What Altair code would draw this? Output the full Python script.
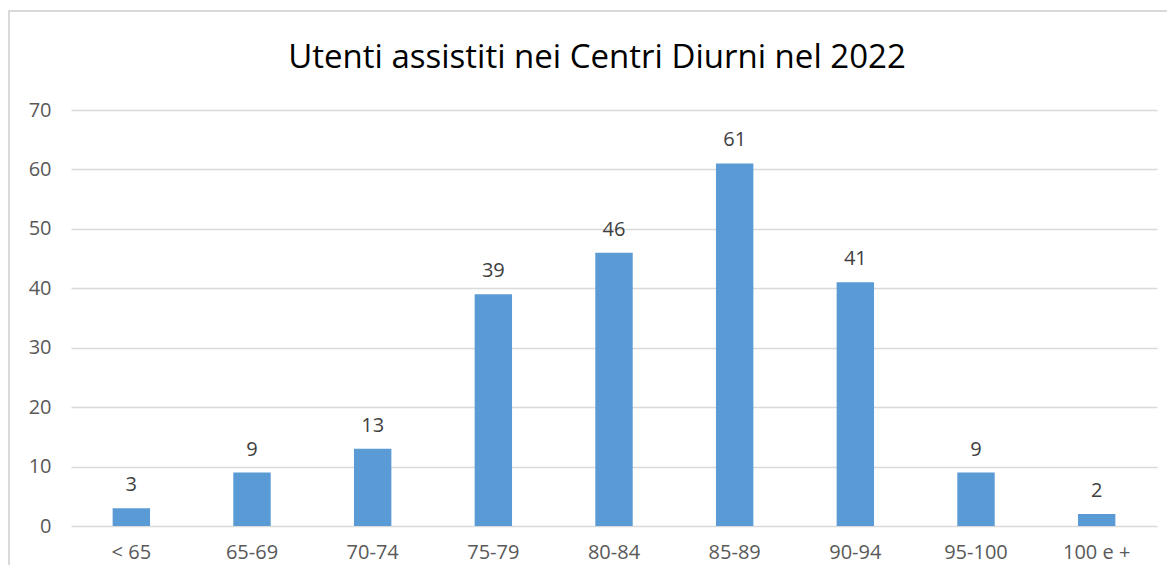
import altair as alt
import pandas as pd

categories = ["< 65", "65-69", "70-74", "75-79", "80-84", "85-89", "90-94", "95-100", "100 e +"]
values = [3, 9, 13, 39, 46, 61, 41, 9, 2]
y_ticks = [0, 10, 20, 30, 40, 50, 60, 70]
title_text = "Utenti assistiti nei Centri Diurni nel 2022"

df = pd.DataFrame({"fascia": categories, "utenti": values})

FONT = "Open Sans"
W, H = 1086, 416

x_enc = alt.X(
    "fascia:N",
    sort=categories,
    scale=alt.Scale(paddingInner=0.69, paddingOuter=0.345),
    axis=alt.Axis(
        title=None, labelAngle=0, ticks=False, domain=False, grid=False,
        labelFontSize=20, labelColor="#595959", labelFont=FONT, labelPadding=16,
    ),
)
y_enc = alt.Y(
    "utenti:Q",
    scale=alt.Scale(domain=[0, 70], nice=False),
    axis=alt.Axis(
        title=None, values=y_ticks, ticks=False, domain=False,
        grid=True, gridColor="#d9d9d9", gridWidth=1.5,
        labelFontSize=20, labelColor="#595959", labelFont=FONT, labelPadding=20,
    ),
)

bars = alt.Chart(df).mark_bar(color="#5B9BD5").encode(x=x_enc, y=y_enc)

labels = alt.Chart(df).mark_text(
    baseline="alphabetic", dy=-17, fontSize=20, color="#404040", font=FONT
).encode(x=alt.X("fascia:N", sort=categories), y="utenti:Q", text="utenti:Q")

frame = alt.Chart(alt.Data(values=[{}])).mark_rect(
    fill=None, stroke="#d9d9d9", strokeWidth=2, clip=False
).encode(
    x=alt.value(-62), x2=alt.value(W + 200),
    y=alt.value(-99), y2=alt.value(H + 200),
)

title = alt.Chart(alt.Data(values=[{"t": title_text}])).mark_text(
    fontSize=33, font=FONT, color="#000000", align="center",
    baseline="alphabetic", clip=False,
).encode(x=alt.value(526), y=alt.value(-42), text="t:N")

chart = alt.layer(frame, bars, labels, title).properties(
    width=W, height=H,
    background="white",
    autosize=alt.AutoSizeParams(type="none"),
    padding={"left": 63, "top": 102, "right": 10, "bottom": 39},
).configure_view(strokeWidth=0, stroke="transparent")

chart.save("out.html", embed_options={"renderer": "svg", "actions": False})
